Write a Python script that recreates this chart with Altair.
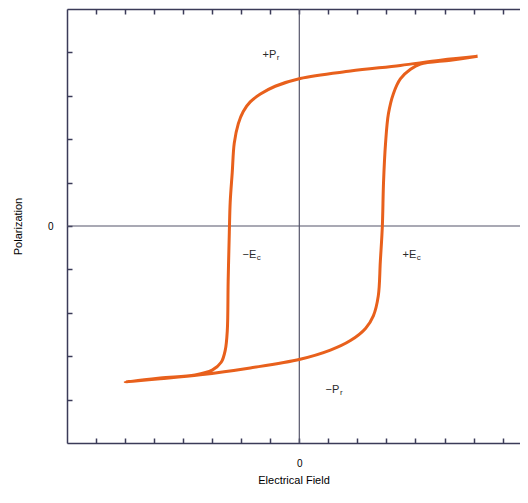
import altair as alt
import pandas as pd

# Hysteresis loop: upper (descending) branch, then lower (ascending) branch
upper_E = [6.14, 4.86, 3.48, 1.76, 0.03, -0.83, -1.34, -1.69, -1.93, -2.10, -2.24,
           -2.31, -2.38, -2.41, -2.45, -2.48, -2.55, -2.69, -3.00, -3.59, -4.79, -6.00]
upper_P = [3.91, 3.82, 3.70, 3.57, 3.40, 3.22, 3.04, 2.86, 2.64, 2.36, 1.91,
           1.23, 0.55, -0.14, -1.27, -2.41, -2.86, -3.14, -3.32, -3.43, -3.50, -3.59]
lower_E = [-4.79, -3.41, -1.69, 0.03, 1.07, 1.76, 2.28, 2.55, 2.72, 2.79, 2.86,
           2.90, 2.97, 3.07, 3.24, 3.48, 3.83, 4.17, 5.21, 6.14]
lower_P = [-3.52, -3.43, -3.27, -3.07, -2.86, -2.64, -2.36, -2.07, -1.61, -0.82, 0.00,
           1.00, 1.91, 2.59, 3.05, 3.39, 3.61, 3.73, 3.82, 3.91]

x_ticks = [-7, -6, -5, -4, -3, -2, -1, 0, 1, 2, 3, 4, 5, 6, 7]
y_ticks = [-4, -3, -2, -1, 0, 1, 2, 3, 4]
x_domain = [-8, 7.6]
y_domain = [-5, 5]

label_main = ["+P", "\u2212P", "\u2212E", "+E"]
label_sub = ["r", "r", "c", "c"]
label_E = [-0.79, 1.38, -1.48, 4.03]
label_P = [3.93, -3.77, -0.66, -0.66]

ORANGE = "#E8601C"
AXIS = "#3b3b58"
TEXT = "#2a2a2a"
FONT = "Liberation Sans"

curve = pd.DataFrame({
    "E": upper_E + lower_E,
    "P": upper_P + lower_P,
    "i": list(range(len(upper_E) + len(lower_E))),
})
labels = pd.DataFrame({"E": label_E, "P": label_P, "main": label_main, "sub": label_sub})
zero = pd.DataFrame({"v": [0]})

xs = alt.Scale(domain=x_domain, nice=False, zero=False)
ys = alt.Scale(domain=y_domain, nice=False, zero=False)

frame = dict(domain=True, domainColor=AXIS, domainWidth=1.5, grid=False)

vrule = alt.Chart(zero).mark_rule(color="#55556a", strokeWidth=1.2).encode(
    x=alt.X("v:Q", scale=xs, axis=alt.Axis(orient="top", ticks=False, labels=False,
                                           title=None, **frame)))
hrule = alt.Chart(zero).mark_rule(color="#55556a", strokeWidth=1.2).encode(
    y=alt.Y("v:Q", scale=ys, axis=None))

line = alt.Chart(curve).mark_line(color=ORANGE, strokeWidth=3, interpolate="catmull-rom").encode(
    x=alt.X("E:Q", scale=xs, axis=alt.Axis(
        orient="bottom", values=[0], ticks=False,
        title="Electrical Field", labelPadding=15, titlePadding=6, titleFontWeight=400, **frame)),
    y=alt.Y("P:Q", scale=ys, axis=alt.Axis(
        orient="left", values=[0], ticks=False,
        title="Polarization", labelPadding=14, titlePadding=24, titleFontWeight=400, **frame)),
    order="i:Q",
)

main_text = alt.Chart(labels).mark_text(
    align="right", baseline="middle", fontSize=11, font=FONT, color=TEXT
).encode(
    x=alt.X("E:Q", scale=xs, axis=None),
    y=alt.Y("P:Q", scale=ys, axis=None),
    text="main:N",
)
sub_text = alt.Chart(labels).mark_text(
    align="left", baseline="middle", fontSize=8, font=FONT, color=TEXT, dx=0.5, dy=3
).encode(
    x=alt.X("E:Q", scale=xs, axis=None),
    y=alt.Y("P:Q", scale=ys, axis=None),
    text="sub:N",
)

tick_style = dict(labels=False, domain=False, grid=False, tickSize=5, tickWidth=1.5,
                  tickColor=AXIS, title=None)

ticks_bl = alt.Chart(curve).mark_point(opacity=0).encode(
    x=alt.X("E:Q", scale=xs, axis=alt.Axis(orient="bottom", offset=-5, values=x_ticks, **tick_style)),
    y=alt.Y("P:Q", scale=ys, axis=alt.Axis(orient="left", offset=-5, values=y_ticks, **tick_style)),
)
ticks_top = alt.Chart(curve).mark_point(opacity=0).encode(
    x=alt.X("E:Q", scale=xs, axis=alt.Axis(orient="top", offset=-5, values=x_ticks, **tick_style)),
    y=alt.Y("P:Q", scale=ys, axis=None),
)

chart = alt.layer(vrule, hrule, line, main_text, sub_text, ticks_bl, ticks_top).resolve_axis(
    x="independent", y="independent"
).properties(
    width=453, height=434,
    autosize=alt.AutoSizeParams(type="none"),
    padding={"left": 59, "top": 1, "right": 0, "bottom": 48},
).configure_view(
    stroke=None
).configure_axis(
    labelFont=FONT, titleFont=FONT, labelFontSize=10.5, titleFontSize=10.5,
    labelColor=TEXT, titleColor=TEXT, titleFontWeight="normal",
).configure(background="white")

chart.save("out.html", embed_options={"renderer": "svg", "actions": False})
